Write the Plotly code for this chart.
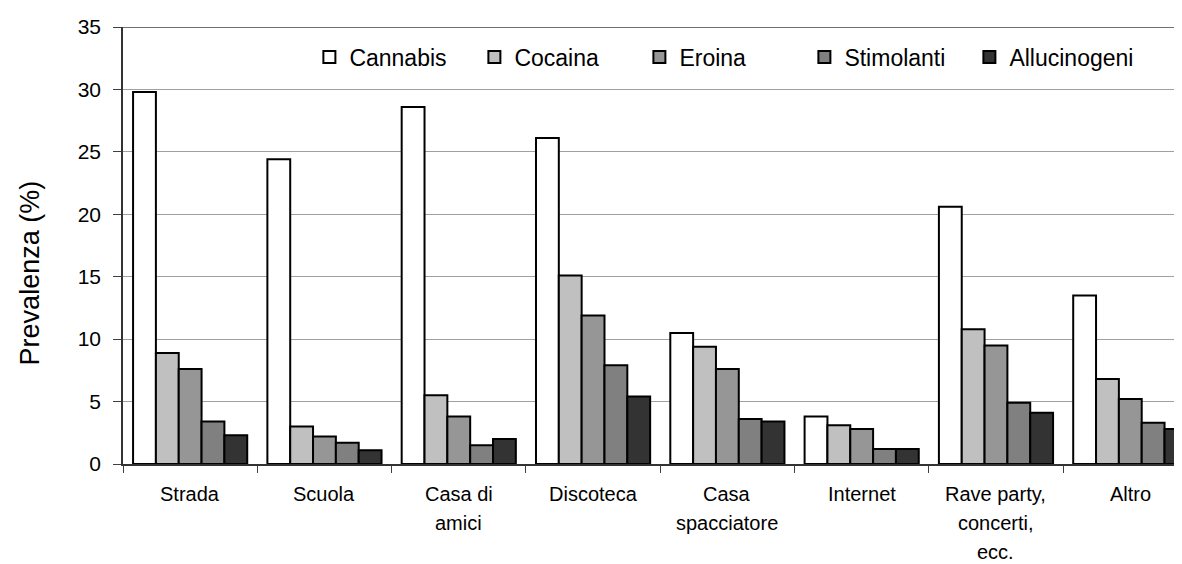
import plotly.graph_objects as go

categories = ["Strada", "Scuola", "Casa di amici", "Discoteca", "Casa spacciatore",
              "Internet", "Rave party, concerti, ecc.", "Altro"]
category_lines = [["Strada"], ["Scuola"], ["Casa di", "amici"], ["Discoteca"],
                  ["Casa", "spacciatore"], ["Internet"],
                  ["Rave party,", "concerti,", "ecc."], ["Altro"]]

cannabis = [29.8, 24.4, 28.6, 26.1, 10.5, 3.8, 20.6, 13.5]
cocaina = [8.9, 3.0, 5.5, 15.1, 9.4, 3.1, 10.8, 6.8]
eroina = [7.6, 2.2, 3.8, 11.9, 7.6, 2.8, 9.5, 5.2]
stimolanti = [3.4, 1.7, 1.5, 7.9, 3.6, 1.2, 4.9, 3.3]
allucinogeni = [2.3, 1.1, 2.0, 5.4, 3.4, 1.2, 4.1, 2.8]

series_names = ["Cannabis", "Cocaina", "Eroina", "Stimolanti", "Allucinogeni"]
series_values = [cannabis, cocaina, eroina, stimolanti, allucinogeni]
series_colors = ["#FFFFFF", "#C0C0C0", "#969696", "#808080", "#333333"]

y_ticks = [0, 5, 10, 15, 20, 25, 30, 35]
y_title = "Prevalenza (%)"

FONT = "Liberation Sans, Arial, sans-serif"

fig = go.Figure()
for name, vals, col in zip(series_names, series_values, series_colors):
    fig.add_trace(go.Bar(
        x=categories, y=vals, name=name,
        marker=dict(color=col, line=dict(color="#000000", width=2)),
    ))

# Multi-line category labels
for cat, lines in zip(categories, category_lines):
    for i, ln in enumerate(lines):
        fig.add_annotation(
            x=cat, xref="x", y=0, yref="paper", yshift=-30 - 29 * i,
            text=ln, showarrow=False, yanchor="middle",
            font=dict(family=FONT, size=20, color="#000000"),
        )

# y-axis title
fig.add_annotation(
    x=-0.088, xref="paper", xanchor="center",
    y=0.438, yref="paper", yanchor="middle",
    text=y_title, textangle=-90, showarrow=False,
    font=dict(family=FONT, size=27, color="#000000"),
)

# top border line at 35
fig.add_shape(type="line", xref="paper", x0=0, x1=1, yref="y", y0=35, y1=35,
              line=dict(color="#404040", width=1.5), layer="below")

fig.update_layout(
    width=1174, height=556,
    margin=dict(l=115, r=0, t=19, b=100, autoexpand=False),
    paper_bgcolor="#FFFFFF", plot_bgcolor="#FFFFFF",
    barmode="group", bargap=0.15, bargroupgap=0,
    font=dict(family=FONT, color="#000000"),
    showlegend=True,
    legend=dict(
        orientation="h", x=0.176, xanchor="left", y=0.931, yanchor="middle",
        font=dict(family=FONT, size=23, color="#000000"),
        bgcolor="rgba(0,0,0,0)", itemwidth=30, tracegroupgap=0,
        traceorder="normal", entrywidth=120, entrywidthmode="pixels",
    ),
    xaxis=dict(
        range=[-0.5, 7.385], showticklabels=False, automargin=False,
        ticks="outside", tickson="boundaries", ticklen=7, tickcolor="#404040",
        showline=True, linecolor="#333333", linewidth=1.5,
        showgrid=False, zeroline=False, fixedrange=True,
    ),
    yaxis=dict(
        range=[0, 35], tickvals=y_ticks, automargin=False,
        ticks="outside", ticklen=8, tickcolor="#404040",
        ticklabelstandoff=8,
        showline=True, linecolor="#333333", linewidth=1.5,
        showgrid=True, gridcolor="#A0A0A0", gridwidth=1,
        zeroline=False,
        tickfont=dict(family=FONT, size=21, color="#000000"),
    ),
)

fig.write_html("out.html")
